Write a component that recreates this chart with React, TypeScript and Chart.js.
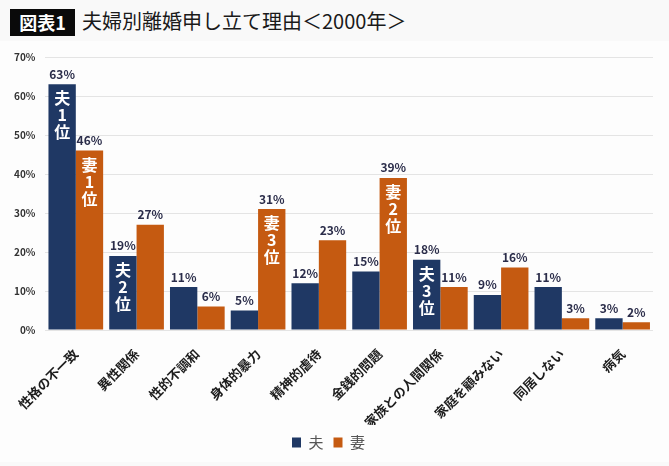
import React, { useEffect, useRef } from "react";
import { Chart, registerables } from "chart.js";

Chart.register(...registerables);

const categories = ["性格の不一致", "異性関係", "性的不調和", "身体的暴力", "精神的虐待", "金銭的問題", "家族との人間関係", "家庭を顧みない", "同居しない", "病気"];
const husbandValues = [63, 19, 11, 5, 12, 15, 18, 9, 11, 3];
const wifeValues = [46, 27, 6, 31, 23, 39, 11, 16, 3, 2];
const husbandRank = ["1", "2", "", "", "", "", "3", "", "", ""];
const wifeRank = ["1", "", "", "3", "", "2", "", "", "", ""];
const seriesNames = ["夫", "妻"];
const yTicks = [0, 10, 20, 30, 40, 50, 60, 70];

const BLUE = "#1f3864";
const ORANGE = "#c55a11";
const JP = '"Noto Sans CJK JP", "Noto Sans", sans-serif';

const labelPlugin = {
  id: "barLabels",
  afterDatasetsDraw(chart: any) {
    const ctx = chart.ctx;
    ctx.save();
    chart.data.datasets.forEach((ds: any, di: number) => {
      const meta = chart.getDatasetMeta(di);
      const ranks = di === 0 ? husbandRank : wifeRank;
      meta.data.forEach((bar: any, i: number) => {
        const v = ds.data[i];
        ctx.fillStyle = "#2b2d4a";
        ctx.font = `bold 12px ${JP}`;
        ctx.textAlign = "center";
        ctx.textBaseline = "bottom";
        ctx.fillText(v + "%", bar.x, bar.y - 4);
        if (ranks[i]) {
          ctx.fillStyle = "#ffffff";
          ctx.font = `bold 16px ${JP}`;
          ctx.textBaseline = "middle";
          const lines = [seriesNames[di], ranks[i], "位"];
          lines.forEach((t, k) => {
            ctx.fillText(t, bar.x, bar.y + 14 + k * 17);
          });
        }
      });
    });
    ctx.restore();
  },
};

export default function App() {
  const ref = useRef<HTMLCanvasElement>(null);
  useEffect(() => {
    document.body.style.margin = "0";
    document.body.style.background = "#f9f9f9";
    const chart = new Chart(ref.current!, {
      type: "bar",
      data: {
        labels: categories,
        datasets: [
          { label: seriesNames[0], data: husbandValues, backgroundColor: BLUE },
          { label: seriesNames[1], data: wifeValues, backgroundColor: ORANGE },
        ],
      },
      options: {
        animation: false,
        responsive: false,
        maintainAspectRatio: false,
        layout: { padding: { top: 0, right: 16, left: 4, bottom: 2 } },
        datasets: { bar: { categoryPercentage: 0.9, barPercentage: 1.0 } },
        scales: {
          x: {
            grid: { display: false },
            border: { display: false },
            afterFit: (scale: any) => {
              scale.paddingLeft = 0;
              scale.paddingRight = 0;
              scale.height = 95;
            },
            ticks: {
              minRotation: 45,
              maxRotation: 45,
              color: "#1c1c1c",
              font: { family: JP, size: 13, weight: "bold" },
              padding: 8,
            },
          },
          y: {
            min: 0,
            max: 70,
            afterBuildTicks: (axis: any) => {
              axis.ticks = yTicks.map((v) => ({ value: v }));
            },
            grid: { color: "#e4e4e4", drawTicks: false },
            border: { display: false },
            ticks: {
              color: "#333",
              font: { family: JP, size: 10, weight: "bold" },
              callback: (v: any) => v + "%",
              padding: 10,
            },
          },
        },
        plugins: {
          legend: {
            position: "bottom",
            labels: {
              boxWidth: 9,
              boxHeight: 10,
              padding: 10,
              color: "#555",
              font: { family: JP, size: 15 },
            },
          },
          tooltip: { enabled: false },
        },
      },
      plugins: [labelPlugin],
    });
    return () => chart.destroy();
  }, []);

  return (
    <div style={{ position: "relative", width: 669, height: 466, background: "#f9f9f9", overflow: "hidden" }}>
      <div style={{ position: "absolute", left: 10, top: 9, width: 65, height: 27, background: "#0a0a0a", color: "#fff", fontFamily: JP, fontWeight: "bold", fontSize: 18, lineHeight: "27px", textAlign: "center" }}>図表1</div>
      <div style={{ position: "absolute", left: 82, top: 6, height: 30, color: "#1a1a1a", fontFamily: JP, fontSize: 20, lineHeight: "30px" }}>夫婦別離婚申し立て理由＜2000年＞</div>
      <div style={{ position: "absolute", left: 0, top: 41, width: 669, height: 421, background: "#fdfdfd" }}>
        <canvas ref={ref} width={669} height={421} style={{ display: "block" }} />
      </div>
    </div>
  );
}
